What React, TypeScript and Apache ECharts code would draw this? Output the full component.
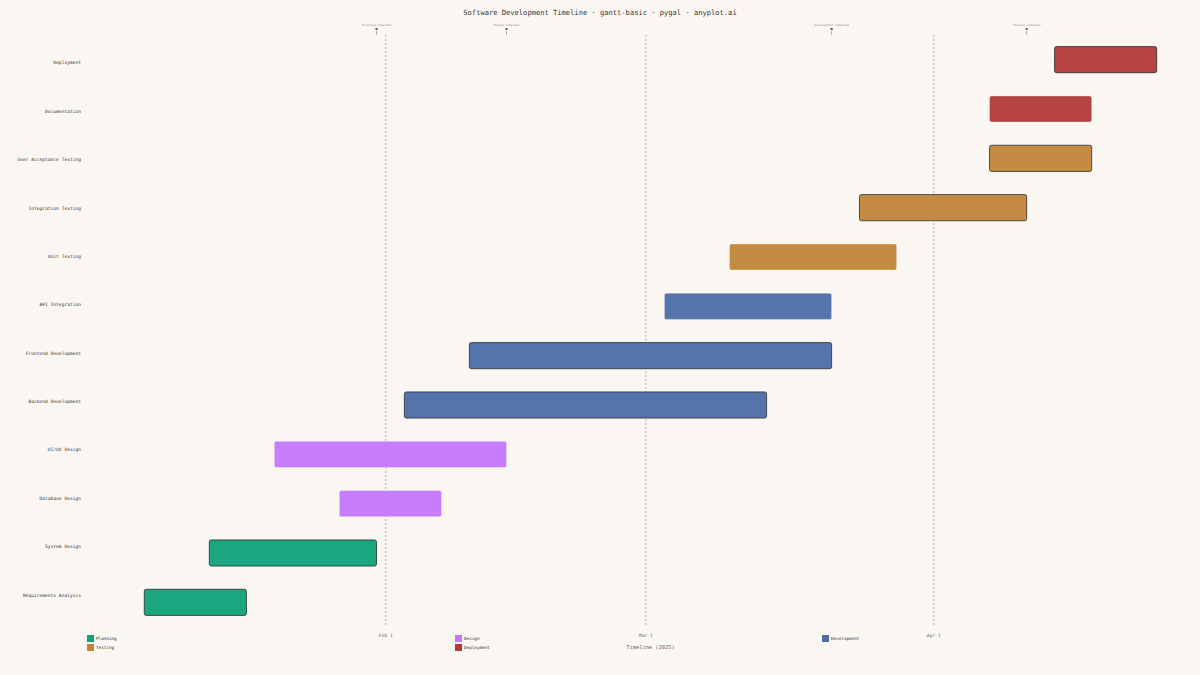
import React, { useEffect, useRef } from 'react';
import * as echarts from 'echarts';

// tasks listed bottom → top (category axis starts at the bottom)
const tasks = [
  'Requirements Analysis',
  'System Design',
  'Database Design',
  'UI/UX Design',
  'Backend Development',
  'Frontend Development',
  'API Integration',
  'Unit Testing',
  'Integration Testing',
  'User Acceptance Testing',
  'Documentation',
  'Deployment',
];
const starts = [
  '2025-01-06', '2025-01-13', '2025-01-27', '2025-01-20', '2025-02-03', '2025-02-10',
  '2025-03-03', '2025-03-10', '2025-03-24', '2025-04-07', '2025-04-07', '2025-04-14',
];
const ends = [
  '2025-01-17', '2025-01-31', '2025-02-07', '2025-02-14', '2025-03-14', '2025-03-21',
  '2025-03-21', '2025-03-28', '2025-04-11', '2025-04-18', '2025-04-18', '2025-04-25',
];
const taskPhases = [
  'Planning', 'Planning', 'Design', 'Design', 'Development', 'Development',
  'Development', 'Testing', 'Testing', 'Testing', 'Deployment', 'Deployment',
];
const critical = [true, true, false, false, true, true, false, false, true, true, false, true];

const phases = ['Planning', 'Design', 'Development', 'Testing', 'Deployment'];
const phaseColors = ['#0ea279', '#c476fc', '#4c6da7', '#c18639', '#b13939'];

const milestoneNames = ['Planning Complete', 'Design Complete', 'Development Complete', 'Testing Complete'];
const milestoneDates = ['2025-01-31', '2025-02-14', '2025-03-21', '2025-04-11'];

const monthTicks = ['2025-02-01', '2025-03-01', '2025-04-01'];
const monthLabels = ['Feb 1', 'Mar 1', 'Apr 1'];

const axisMin = '2025-01-05';
const axisMax = '2025-04-26';

const FONT = 'DejaVu Sans Mono';

const ms = (d: string) => {
  const [y, m, day] = d.split('-').map(Number);
  return Date.UTC(y, m - 1, day);
};

const App: React.FC = () => {
  const chartRef = useRef<HTMLDivElement>(null);

  useEffect(() => {
    document.body.style.margin = '0';
    if (!chartRef.current) return;
    const chart = echarts.init(chartRef.current, undefined, { renderer: 'svg' });

    const phaseSeries = phases.map((p, pi) => ({
      name: p,
      type: 'custom',
      xAxisIndex: 0,
      yAxisIndex: 0,
      z: 3,
      itemStyle: { color: phaseColors[pi] },
      encode: { x: [1, 2], y: 0 },
      data: tasks
        .map((_, i) => i)
        .filter(i => taskPhases[i] === p)
        .map(i => [i, ms(starts[i]), ms(ends[i]), critical[i] ? 1 : 0]),
      renderItem: (params: any, api: any) => {
        const idx = api.value(0);
        const a = api.coord([api.value(1), idx]);
        const b = api.coord([api.value(2), idx]);
        const h = api.size([0, 1])[1] * 0.53;
        const isCrit = api.value(3) === 1;
        return {
          type: 'rect',
          shape: { x: a[0], y: a[1] - h / 2, width: b[0] - a[0], height: h, r: 2 },
          style: {
            fill: phaseColors[pi],
            opacity: 0.95,
            stroke: isCrit ? 'rgba(40,40,40,0.8)' : 'rgba(255,255,255,0.35)',
            lineWidth: 1,
          },
        };
      },
    }));

    const monthSeries = {
      name: 'months',
      type: 'custom',
      z: 1,
      silent: true,
      xAxisIndex: 0,
      yAxisIndex: 0,
      encode: { x: 0, y: 1 },
      data: monthTicks.map((d, i) => [ms(d), 0, i]),
      renderItem: (params: any, api: any) => {
        const cs = params.coordSys;
        const x = api.coord([api.value(0), 0])[0];
        return {
          type: 'group',
          children: [
            {
              type: 'line',
              shape: { x1: x, y1: cs.y, x2: x, y2: cs.y + cs.height },
              style: { stroke: 'rgba(120,120,120,0.75)', lineWidth: 0.8, lineDash: [2, 2] },
            },
            {
              type: 'text',
              x,
              y: cs.y + cs.height + 8,
              style: {
                text: monthLabels[api.value(2)],
                fontFamily: FONT,
                fontSize: 4.6,
                fill: '#666',
                align: 'center',
                verticalAlign: 'middle',
              },
            },
          ],
        };
      },
    };

    const milestoneSeries = {
      name: 'milestones',
      type: 'custom',
      z: 2,
      silent: true,
      clip: false,
      xAxisIndex: 0,
      yAxisIndex: 0,
      encode: { x: 0, y: 1 },
      data: milestoneDates.map((d, i) => [ms(d), 0, i]),
      renderItem: (params: any, api: any) => {
        const cs = params.coordSys;
        const x = api.coord([api.value(0), 0])[0];
        return {
          type: 'group',
          children: [
            {
              type: 'text',
              x,
              y: cs.y - 10,
              style: {
                text: milestoneNames[api.value(2)],
                fontFamily: FONT,
                fontSize: 2.9,
                fill: '#888',
                align: 'center',
                verticalAlign: 'middle',
              },
            },
            {
              type: 'rect',
              shape: { x: x - 1, y: cs.y - 7, width: 2, height: 2 },
              style: { fill: '#555' },
            },
            {
              type: 'line',
              shape: { x1: x, y1: cs.y - 4, x2: x, y2: cs.y },
              style: { stroke: '#999', lineWidth: 0.8 },
            },
          ],
        };
      },
    };

    const legendPos = [
      { left: 87, top: 635 },
      { left: 455, top: 635 },
      { left: 822, top: 635 },
      { left: 87, top: 644 },
      { left: 455, top: 644 },
    ];

    const option: any = {
      animation: false,
      backgroundColor: '#faf7f2',
      textStyle: { fontFamily: FONT },
      title: {
        text: 'Software Development Timeline · gantt-basic · pygal · anyplot.ai',
        left: 'center',
        top: 4,
        textStyle: { fontFamily: FONT, fontSize: 7.1, fontWeight: 'normal', color: '#333' },
      },
      legend: phases.map((p, i) => ({
        data: [p],
        left: legendPos[i].left,
        top: legendPos[i].top,
        icon: 'rect',
        itemWidth: 7,
        itemHeight: 7,
        padding: 0,
        selectedMode: false,
        textStyle: { fontFamily: FONT, fontSize: 4.3, color: '#333', padding: [0, 0, 0, -3] },
      })),
      grid: [
        { left: 135, right: 34, top: 35, bottom: 48, outerBoundsMode: 'none' },
        { left: 135, right: 34, top: 38.8, bottom: 55.8, outerBoundsMode: 'none' },
      ],
      xAxis: [
        {
          type: 'time',
          gridIndex: 0,
          min: ms(axisMin),
          max: ms(axisMax),
          axisLabel: { show: false },
          axisTick: { show: false },
          axisLine: { show: false },
          splitLine: { show: false },
          name: 'Timeline (2025)',
          nameLocation: 'middle',
          nameGap: 17.5,
          nameTextStyle: { fontFamily: FONT, fontSize: 5.4, color: '#666' },
        },
        {
          type: 'value',
          gridIndex: 1,
          show: false,
        },
      ],
      yAxis: [
        {
          type: 'category',
          gridIndex: 0,
          data: tasks,
          axisLabel: { show: false },
          axisTick: { show: false },
          axisLine: { show: false },
          splitLine: { show: false },
        },
        {
          type: 'category',
          gridIndex: 1,
          data: tasks,
          axisTick: { show: false },
          axisLine: { show: false },
          splitLine: { show: false },
          axisLabel: { fontFamily: FONT, fontSize: 4.6, color: '#333', margin: 54 },
        },
      ],
      series: [monthSeries, milestoneSeries, ...phaseSeries],
    };

    chart.setOption(option);
    return () => {
      chart.dispose();
    };
  }, []);

  return <div ref={chartRef} style={{ width: 1200, height: 675 }} />;
};

export default App;
